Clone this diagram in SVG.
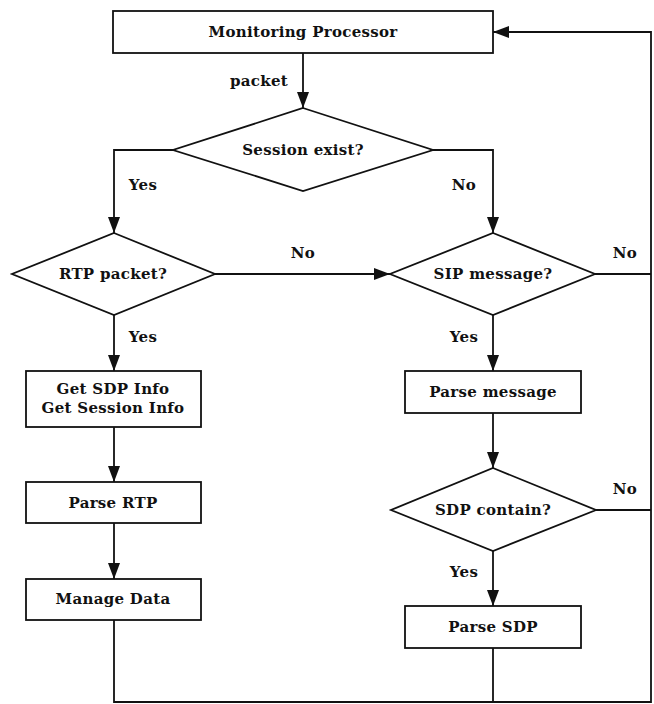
<svg xmlns="http://www.w3.org/2000/svg" width="654" height="704" viewBox="0 0 654 704">
  <style>
    .box { fill: #fff; stroke: #111; stroke-width: 1.8; }
    .wire { fill: none; stroke: #111; stroke-width: 1.8; }
    text { font-family: "DejaVu Serif", "Liberation Serif", serif; font-weight: bold; font-size: 15px; letter-spacing: 0.3px; fill: #111; text-anchor: middle; dominant-baseline: central; }
  </style>
  <defs>
    <marker id="arrow" markerUnits="userSpaceOnUse" markerWidth="17" markerHeight="12" refX="16" refY="6" orient="auto">
      <path d="M0,0 L16,6 L0,12 Z" fill="#111"/>
    </marker>
  </defs>

  <g id="connectors">
    <path class="wire" d="M303,53 V108" marker-end="url(#arrow)"/>
    <path class="wire" d="M173,150 H114 V233" marker-end="url(#arrow)"/>
    <path class="wire" d="M433,150 H493 V233" marker-end="url(#arrow)"/>
    <path class="wire" d="M215,274 H390" marker-end="url(#arrow)"/>
    <path class="wire" d="M595,274 H651"/>
    <path class="wire" d="M114,315 V371" marker-end="url(#arrow)"/>
    <path class="wire" d="M114,427 V482" marker-end="url(#arrow)"/>
    <path class="wire" d="M114,523 V579" marker-end="url(#arrow)"/>
    <path class="wire" d="M114,620 V702 H651 V32 H493" marker-end="url(#arrow)"/>
    <path class="wire" d="M493,315 V371" marker-end="url(#arrow)"/>
    <path class="wire" d="M493,413 V468" marker-end="url(#arrow)"/>
    <path class="wire" d="M596,510 H651"/>
    <path class="wire" d="M493,551 V606" marker-end="url(#arrow)"/>
    <path class="wire" d="M493,648 V702"/>
    <text x="259" y="81">packet</text>
    <text x="143" y="185">Yes</text>
    <text x="464" y="185">No</text>
    <text x="303" y="253">No</text>
    <text x="625" y="253">No</text>
    <text x="143" y="337">Yes</text>
    <text x="464" y="337">Yes</text>
    <text x="625" y="489">No</text>
    <text x="464" y="572">Yes</text>
  </g>

  <g id="monitoring-processor">
    <rect class="box" x="113" y="11" width="380" height="42"/>
    <text x="303" y="32">Monitoring Processor</text>
  </g>
  <g id="session-exist">
    <polygon class="box" points="303,108 433,150 303,191 173,150"/>
    <text x="303" y="150">Session exist?</text>
  </g>
  <g id="rtp-packet">
    <polygon class="box" points="114,233 215,274 114,315 12,274"/>
    <text x="113" y="274">RTP packet?</text>
  </g>
  <g id="sip-message">
    <polygon class="box" points="493,233 595,274 493,315 390,274"/>
    <text x="493" y="274">SIP message?</text>
  </g>
  <g id="get-info">
    <rect class="box" x="26" y="371" width="175" height="56"/>
    <text x="113" y="389">Get SDP Info</text>
    <text x="113" y="408">Get Session Info</text>
  </g>
  <g id="parse-rtp">
    <rect class="box" x="26" y="482" width="175" height="41"/>
    <text x="113" y="503">Parse RTP</text>
  </g>
  <g id="manage-data">
    <rect class="box" x="26" y="579" width="175" height="41"/>
    <text x="113" y="599">Manage Data</text>
  </g>
  <g id="parse-message">
    <rect class="box" x="405" y="371" width="176" height="42"/>
    <text x="493" y="392">Parse message</text>
  </g>
  <g id="sdp-contain">
    <polygon class="box" points="493,468 596,510 493,551 391,510"/>
    <text x="493" y="510">SDP contain?</text>
  </g>
  <g id="parse-sdp">
    <rect class="box" x="405" y="606" width="176" height="42"/>
    <text x="493" y="627">Parse SDP</text>
  </g>
</svg>
